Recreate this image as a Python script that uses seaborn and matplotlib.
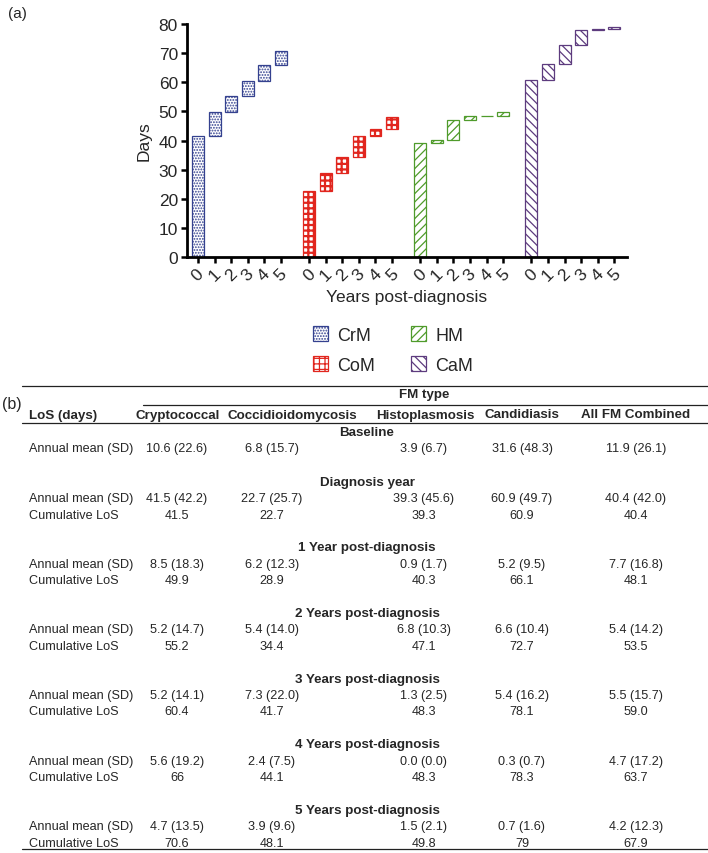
import numpy as np
import pandas as pd
import matplotlib
matplotlib.use("Agg")
import matplotlib.pyplot as plt
import matplotlib.patches as mpatches
import seaborn as sns

# cumulative LoS (days) per year post-diagnosis
years = [0, 1, 2, 3, 4, 5]
fm_codes = ["CrM", "CoM", "HM", "CaM"]
cum_crm = [41.5, 49.9, 55.2, 60.4, 66, 70.6]
cum_com = [22.7, 28.9, 34.4, 41.7, 44.1, 48.1]
cum_hm = [39.3, 40.3, 47.1, 48.3, 48.3, 49.8]
cum_cam = [60.9, 66.1, 72.7, 78.1, 78.3, 79]
cum_all = [40.4, 48.1, 53.5, 59.0, 63.7, 67.9]

# annual mean (SD): baseline, diagnosis year, then 1..5 years
mean_crm = [10.6, 41.5, 8.5, 5.2, 5.2, 5.6, 4.7]
sd_crm = [22.6, 42.2, 18.3, 14.7, 14.1, 19.2, 13.5]
mean_com = [6.8, 22.7, 6.2, 5.4, 7.3, 2.4, 3.9]
sd_com = [15.7, 25.7, 12.3, 14.0, 22.0, 7.5, 9.6]
mean_hm = [3.9, 39.3, 0.9, 6.8, 1.3, 0.0, 1.5]
sd_hm = [6.7, 45.6, 1.7, 10.3, 2.5, 0.0, 2.1]
mean_cam = [31.6, 60.9, 5.2, 6.6, 5.4, 0.3, 0.7]
sd_cam = [48.3, 49.7, 9.5, 10.4, 16.2, 0.7, 1.6]
mean_all = [11.9, 40.4, 7.7, 5.4, 5.5, 4.7, 4.2]
sd_all = [26.1, 42.0, 16.8, 14.2, 15.7, 17.2, 12.3]

col_names = ["Cryptococcal", "Coccidioidomycosis", "Histoplasmosis",
             "Candidiasis", "All FM Combined"]
section_names = ["Baseline", "Diagnosis year", "1 Year post-diagnosis",
                 "2 Years post-diagnosis", "3 Years post-diagnosis",
                 "4 Years post-diagnosis", "5 Years post-diagnosis"]

colors = ["#34418f", "#e1261e", "#4f9b2b", "#5d3b7e"]
hatches = ["......", "+++", "////", "\\\\\\\\"]
hatch_lw = [0.9, 1.6, 0.9, 0.9]

sns.set_style("ticks")
plt.rcParams["font.family"] = ["Liberation Sans", "DejaVu Sans"]
plt.rcParams["hatch.linewidth"] = 0.9

W, H = 708, 854
def fx(x):
    return x / W
def fy(y):
    return 1 - y / H

fig = plt.figure(figsize=(W / 100, H / 100), dpi=100)

## (a) waterfall chart
ax = fig.add_axes([fx(187), fy(258), fx(627) - fx(187), fy(25) - fy(258)])
group_step = 6.7
all_pos = []
for g, cum in enumerate([cum_crm, cum_com, cum_hm, cum_cam]):
    cum = np.asarray(cum, float)
    bottoms = np.r_[0, cum[:-1]]
    df = pd.DataFrame({"pos": g * group_step + np.array(years, float),
                       "height": cum - bottoms})
    all_pos += list(df["pos"])
    with plt.rc_context({"hatch.linewidth": hatch_lw[g]}):
        sns.barplot(data=df, x="pos", y="height", native_scale=True,
                    width=0.72, errorbar=None, color=colors[g],
                    facecolor="white", edgecolor=colors[g],
                    hatch=hatches[g], linewidth=0.9, bottom=bottoms, ax=ax)

ax.set_xlim(-0.66, 3 * group_step + 5.76)
ax.set_ylim(0, 80)
ax.set_yticks(range(0, 81, 10))
ax.set_xticks(all_pos)
ax.set_xticklabels([str(y) for y in years] * 4, rotation=45, ha="center",
                   fontsize=12.5)
ax.tick_params(axis="y", labelsize=12.5)
ax.tick_params(axis="both", width=1.8, length=4.5, color="black", pad=2)
sns.despine(ax=ax)
for s in ["left", "bottom"]:
    ax.spines[s].set_linewidth(2.0)
    ax.spines[s].set_color("black")
ax.set_ylabel("Days", fontsize=12.5, labelpad=5)
ax.set_xlabel("Years post-diagnosis", fontsize=12.5, labelpad=4)

handles = []
for n, c, h, lw in zip(fm_codes, colors, hatches, hatch_lw):
    with plt.rc_context({"hatch.linewidth": lw}):
        handles.append(mpatches.Patch(facecolor="white", edgecolor=c,
                                      hatch=h, linewidth=0.9, label=n))
fig.legend(handles=handles, ncol=2, loc="upper center",
           bbox_to_anchor=(fx(393), fy(311)), frameon=False, fontsize=13,
           handlelength=0.85, handleheight=0.85, handletextpad=0.5,
           columnspacing=2.0, labelspacing=0.7)

fig.text(fx(8), fy(14), "(a)", fontsize=11, va="center", ha="left")

## (b) table
narrow = ["Liberation Sans Narrow", "Liberation Sans", "DejaVu Sans"]
tfs_b = 9.6
tfs = 9.1
fig.text(fx(2), fy(404), "(b)", fontsize=11.5, va="center", ha="left")

def hline(y, x0, x1=708):
    fig.add_artist(plt.Line2D([fx(x0), fx(x1)], [fy(y), fy(y)],
                              transform=fig.transFigure, color="#222222",
                              lw=0.9))

hline(387, 22)
hline(405.5, 143)
hline(424, 22)
hline(850, 22)

head_x = [178, 292, 425, 522, 636]
val_x = [177, 272, 424, 522, 636]
fig.text(fx(424), fy(395), "FM type", family=narrow, fontsize=tfs_b,
         weight="bold", ha="center", va="center")
fig.text(fx(29), fy(415.5), "LoS (days)", family=narrow, fontsize=tfs_b,
         weight="bold", ha="left", va="center")
for x, name in zip(head_x, col_names):
    fig.text(fx(x), fy(415.5), name, family=narrow, fontsize=tfs_b,
             weight="bold", ha="center", va="center")

means = [mean_crm, mean_com, mean_hm, mean_cam, mean_all]
sds = [sd_crm, sd_com, sd_hm, sd_cam, sd_all]
cums = [cum_crm, cum_com, cum_hm, cum_cam, cum_all]

def fmt_cum(v):
    return str(v) if isinstance(v, int) else "%.1f" % v

step = 16.4
for k, sec in enumerate(section_names):
    if k == 0:
        y_head = 433
    else:
        y_head = 450 + step * (2 + 4 * (k - 1))
    fig.text(fx(367), fy(y_head), sec, family=narrow, fontsize=tfs_b,
             weight="bold", ha="center", va="center")
    y_ann = y_head + step
    fig.text(fx(29), fy(y_ann), "Annual mean (SD)", family=narrow,
             fontsize=tfs, ha="left", va="center")
    for j in range(5):
        fig.text(fx(val_x[j]), fy(y_ann),
                 "%.1f (%.1f)" % (means[j][k], sds[j][k]), family=narrow,
                 fontsize=tfs, ha="center", va="center")
    if k > 0:
        y_cum = y_ann + step
        fig.text(fx(29), fy(y_cum), "Cumulative LoS", family=narrow,
                 fontsize=tfs, ha="left", va="center")
        for j in range(5):
            fig.text(fx(val_x[j]), fy(y_cum), fmt_cum(cums[j][k - 1]),
                     family=narrow, fontsize=tfs, ha="center", va="center")

fig.savefig("out.png", dpi=100)
